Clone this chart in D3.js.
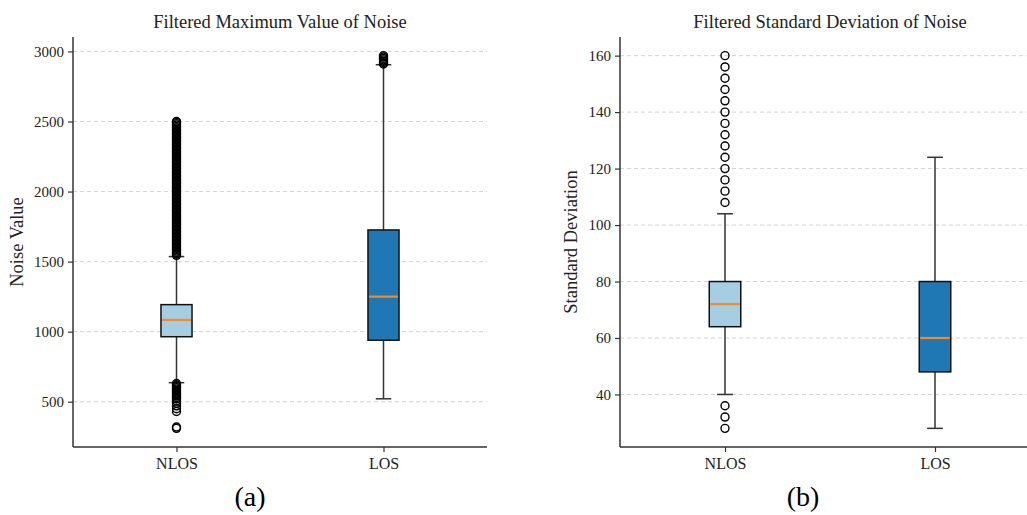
<!DOCTYPE html>
<html>
<head>
  <meta charset="utf-8" />
  <title>Noise boxplots</title>
  <style>
    body { margin: 0; background: #fff; }
    svg { display: block; font-family: "Liberation Serif", serif; }
    .grid line { stroke: #c8c8c8; stroke-width: 0.8px; stroke-dasharray: 4 3; }
    .spine { stroke: #333; stroke-width: 1.5px; }
    .tick line { stroke: #333; stroke-width: 1.2px; }
    .tick text { fill: #222; font-size: 15px; font-family: "Liberation Serif", serif; }
    .whisker { stroke: #333; stroke-width: 1.5px; }
    .box { stroke: #111; stroke-width: 1.5px; }
    .median { stroke: #f08a2c; stroke-width: 2.2px; }
    .flier { fill: none; stroke: #000; stroke-width: 1.4px; }
  </style>
  <script src="https://cdnjs.cloudflare.com/ajax/libs/d3/7.8.5/d3.min.js"></script>
</head>
<body>
  <div id="chart"></div>
  <script>
    var categories = ['NLOS', 'LOS'];
    var boxColors = ['#a6cee3', '#1f78b4'];

    // (a) filtered maximum value
    var maxQ1 = [964, 939];
    var maxMedian = [1084, 1250];
    var maxQ3 = [1193, 1726];
    var maxWhiskerLow = [636, 521];
    var maxWhiskerHigh = [1536, 2905];
    var maxTicks = [500, 1000, 1500, 2000, 2500, 3000];
    var maxFliersNLOS = [
      310, 320, 430, 450, 470, 490, 505, 520, 530, 540,
      550, 560, 570, 580, 590, 600, 610, 620, 630,
      1545, 1555, 1565, 1575, 1585, 1595, 1605, 1615, 1625, 1635,
      1645, 1655, 1665, 1675, 1685, 1695, 1705, 1715, 1725, 1735,
      1745, 1755, 1765, 1775, 1785, 1795, 1805, 1815, 1825, 1835,
      1845, 1855, 1865, 1875, 1885, 1895, 1905, 1915, 1925, 1935,
      1945, 1955, 1965, 1975, 1985, 1995, 2005, 2015, 2025, 2035,
      2045, 2055, 2065, 2075, 2085, 2095, 2105, 2115, 2125, 2135,
      2145, 2155, 2165, 2175, 2185, 2195, 2205, 2215, 2225, 2235,
      2245, 2255, 2265, 2275, 2285, 2295, 2305, 2315, 2325, 2335,
      2345, 2355, 2365, 2375, 2385, 2395, 2405, 2415, 2425, 2435,
      2445, 2455, 2465, 2475, 2485, 2495, 2500
    ];
    var maxFliersLOS = [2910, 2920, 2930, 2940, 2950, 2960, 2970];

    // (b) filtered standard deviation
    var stdQ1 = [64, 48];
    var stdMedian = [72, 60];
    var stdQ3 = [80, 80];
    var stdWhiskerLow = [40, 28];
    var stdWhiskerHigh = [104, 124];
    var stdTicks = [40, 60, 80, 100, 120, 140, 160];
    var stdFliersNLOS = [28, 32, 36, 108, 112, 116, 120, 124, 128, 132, 136, 140, 144, 148, 152, 156, 160];
    var stdFliersLOS = [];

    var svg = d3.select('#chart').append('svg')
      .attr('width', 1027)
      .attr('height', 515);

    function drawPanel(cfg) {
      var g = svg.append('g');
      var x = d3.scaleLinear().domain([0.5, 2.5]).range([cfg.left, cfg.left + cfg.width]);
      var all = d3.merge([cfg.low, cfg.high, cfg.fliers[0], cfg.fliers[1]]);
      var lo = d3.min(all), hi = d3.max(all), pad = (hi - lo) * 0.05;
      var y = d3.scaleLinear().domain([lo - pad, hi + pad]).range([cfg.bottom, cfg.top]);

      // grid
      g.append('g').attr('class', 'grid')
        .selectAll('line').data(cfg.ticks).enter().append('line')
        .attr('x1', cfg.left).attr('x2', cfg.left + cfg.width)
        .attr('y1', d => y(d)).attr('y2', d => y(d));

      var yAxis = d3.axisLeft(y).tickValues(cfg.ticks).tickSize(5).tickPadding(4).tickFormat(d3.format('d'));
      g.append('g').attr('transform', 'translate(' + cfg.left + ',0)').call(yAxis)
        .call(s => s.select('.domain').remove());
      var xAxis = d3.axisBottom(x).tickValues([1, 2]).tickSize(5).tickPadding(6)
        .tickFormat(d => categories[d - 1]);
      g.append('g').attr('transform', 'translate(0,' + cfg.bottom + ')').call(xAxis)
        .call(s => s.select('.domain').remove())
        .selectAll('text').style('font-size', '16px');

      // spines
      g.append('line').attr('class', 'spine')
        .attr('x1', cfg.left).attr('x2', cfg.left).attr('y1', cfg.top).attr('y2', cfg.bottom);
      g.append('line').attr('class', 'spine')
        .attr('x1', cfg.left).attr('x2', cfg.left + cfg.width).attr('y1', cfg.bottom).attr('y2', cfg.bottom);

      var bw = x(1.075) - x(1);
      var cw = bw / 2;
      categories.forEach(function (c, i) {
        var cx = x(i + 1);
        var b = g.append('g');
        b.append('line').attr('class', 'whisker')
          .attr('x1', cx).attr('x2', cx).attr('y1', y(cfg.q3[i])).attr('y2', y(cfg.high[i]));
        b.append('line').attr('class', 'whisker')
          .attr('x1', cx).attr('x2', cx).attr('y1', y(cfg.q1[i])).attr('y2', y(cfg.low[i]));
        b.append('line').attr('class', 'whisker')
          .attr('x1', cx - cw).attr('x2', cx + cw).attr('y1', y(cfg.high[i])).attr('y2', y(cfg.high[i]));
        b.append('line').attr('class', 'whisker')
          .attr('x1', cx - cw).attr('x2', cx + cw).attr('y1', y(cfg.low[i])).attr('y2', y(cfg.low[i]));
        b.append('rect').attr('class', 'box')
          .attr('x', cx - bw).attr('width', bw * 2)
          .attr('y', y(cfg.q3[i])).attr('height', y(cfg.q1[i]) - y(cfg.q3[i]))
          .attr('fill', boxColors[i]);
        b.append('line').attr('class', 'median')
          .attr('x1', cx - bw + 1).attr('x2', cx + bw - 1)
          .attr('y1', y(cfg.median[i])).attr('y2', y(cfg.median[i]));
        b.selectAll('circle').data(cfg.fliers[i]).enter().append('circle')
          .attr('class', 'flier')
          .attr('cx', cx).attr('cy', d => y(d)).attr('r', 4);
      });

      g.append('text')
        .attr('x', cfg.left + cfg.width / 2).attr('y', 28)
        .attr('text-anchor', 'middle').style('font-size', '18.5px').style('fill', '#222')
        .text(cfg.title);
      g.append('text')
        .attr('transform', 'translate(' + cfg.labelX + ',' + (cfg.top + cfg.bottom) / 2 + ') rotate(-90)')
        .attr('text-anchor', 'middle').style('font-size', '18.5px').style('fill', '#222')
        .text(cfg.ylabel);
      g.append('text')
        .attr('x', cfg.captionX).attr('y', 506)
        .attr('text-anchor', 'middle').style('font-size', '28px').style('fill', '#000')
        .text(cfg.caption);
    }

    drawPanel({
      left: 73, width: 414, top: 37, bottom: 447,
      q1: maxQ1, median: maxMedian, q3: maxQ3, low: maxWhiskerLow, high: maxWhiskerHigh,
      fliers: [maxFliersNLOS, maxFliersLOS], ticks: maxTicks,
      title: 'Filtered Maximum Value of Noise', ylabel: 'Noise Value', labelX: 23,
      caption: '(a)', captionX: 250
    });
    drawPanel({
      left: 620, width: 420, top: 37, bottom: 447,
      q1: stdQ1, median: stdMedian, q3: stdQ3, low: stdWhiskerLow, high: stdWhiskerHigh,
      fliers: [stdFliersNLOS, stdFliersLOS], ticks: stdTicks,
      title: 'Filtered Standard Deviation of Noise', ylabel: 'Standard Deviation', labelX: 577,
      caption: '(b)', captionX: 803
    });
  </script>
</body>
</html>
